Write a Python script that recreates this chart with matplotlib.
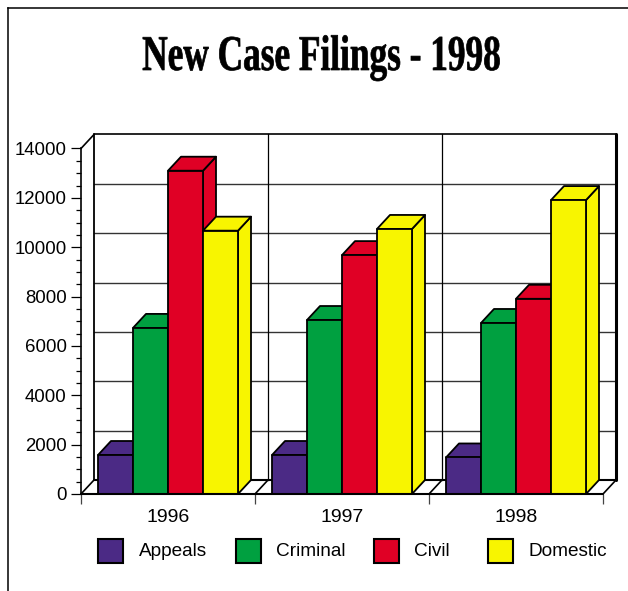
import matplotlib
matplotlib.use('Agg')
import matplotlib.pyplot as plt
from matplotlib.lines import Line2D
from matplotlib.patches import Rectangle
from matplotlib.patheffects import AbstractPathEffect
from matplotlib.transforms import Affine2D

# Data
years = ['1996', '1997', '1998']
appeals = [1580, 1580, 1480]
criminal = [6730, 7050, 6930]
civil = [13100, 9680, 7910]
domestic = [10670, 10740, 11910]
series_names = ['Appeals', 'Criminal', 'Civil', 'Domestic']
y_ticks = [0, 2000, 4000, 6000, 8000, 10000, 12000, 14000]

colors = ['#4B2A85', '#00A040', '#E00025', '#F8F500']

W, H = 628, 591
plt.rcParams['font.family'] = ['Liberation Sans', 'DejaVu Sans']


# the title in the original is a tall narrow serif, so stretch glyphs upward
class TallText(AbstractPathEffect):
    def __init__(self, k):
        super().__init__()
        self.k = k

    def draw_path(self, renderer, gc, tpath, affine, rgbFace=None):
        gc.set_linewidth(0.5)
        renderer.draw_path(gc, tpath, Affine2D().scale(1, self.k) + affine, rgbFace)


fig = plt.figure(figsize=(W / 100, H / 100), dpi=100)
ax = fig.add_axes([81 / W, (H - 494) / H, 522 / W, 345.5 / H])
ax.set_xlim(0, 3)
ax.set_ylim(0, 14000)

# depth of the 3d effect, in data units
dx = 13 / 174
dy = 14 * 14000 / 345.5
bar_w = 35 / 174
bar_start = 17 / 174

# back wall, floor and side wall
line_kw = dict(color='black', clip_on=False, solid_capstyle='round')
for v in y_ticks[1:-1]:
    ax.plot([dx, 3 + dx], [v + dy, v + dy], color='#333333', lw=1, clip_on=False, zorder=1)
for g in [1, 2]:
    ax.plot([g + dx, g + dx], [dy, 14000 + dy], color='black', lw=0.9, clip_on=False, zorder=1)
ax.plot([dx, 3 + dx], [14000 + dy, 14000 + dy], lw=1.2, zorder=2, **line_kw)
ax.plot([3 + dx, 3 + dx], [dy, 14000 + dy], lw=2.2, zorder=2, **line_kw)
ax.plot([dx, dx], [dy, 14000 + dy], lw=1.3, zorder=2, **line_kw)
ax.plot([dx, 3 + dx], [dy, dy], lw=1.5, zorder=2, **line_kw)
ax.plot([0, dx], [14000, 14000 + dy], lw=1.2, zorder=2, **line_kw)
for g in [0, 1, 2, 3]:
    ax.plot([g, g + dx], [0, dy], lw=1.2, zorder=2, **line_kw)

# bars, left to right so each one covers the side of the previous one
z = 3
for g in range(len(years)):
    for i, values in enumerate([appeals, criminal, civil, domestic]):
        v = values[g]
        x0 = g + bar_start + i * bar_w
        x1 = x0 + bar_w
        ax.fill([x1, x1 + dx, x1 + dx, x1], [0, dy, v + dy, v], facecolor=colors[i],
                edgecolor='black', lw=1.3, clip_on=False, zorder=z, joinstyle='round')
        ax.fill([x0, x0 + dx, x1 + dx, x1], [v, v + dy, v + dy, v], facecolor=colors[i],
                edgecolor='black', lw=1.3, clip_on=False, zorder=z, joinstyle='round')
        ax.fill([x0, x1, x1, x0], [0, 0, v, v], facecolor=colors[i],
                edgecolor='black', lw=1.3, clip_on=False, zorder=z, joinstyle='round')
        z += 1

ax.plot([0, 3], [0, 0], lw=1.5, zorder=z, **line_kw)

# axes
ax.patch.set_visible(False)
for side in ['top', 'right', 'bottom']:
    ax.spines[side].set_visible(False)
ax.spines['left'].set_linewidth(1.2)
ax.spines['left'].set_zorder(2)
ax.set_yticks(y_ticks)
ax.set_yticks([v for v in range(0, 14001, 500) if v % 2000], minor=True)
ax.tick_params(axis='y', which='major', length=7.2, width=0.9, pad=3, labelsize=13.4)
ax.tick_params(axis='y', which='minor', length=3.6, width=0.9)
ax.set_xticks([0, 1, 2, 3], labels=[])
ax.set_xticks([0.5, 1.5, 2.5], labels=years, minor=True)
ax.tick_params(axis='x', which='major', length=7.2, width=0.9, color='#444444')
ax.tick_params(axis='x', which='minor', length=0, pad=10.5, labelsize=14)

# title
title = fig.text(321.5 / W, 1 - 70 / H, 'New Case Filings - 1998', ha='center', va='baseline',
                 family=['Liberation Serif', 'DejaVu Serif'], weight='bold', fontsize=25.4)
title.set_path_effects([TallText(1.42)])

# legend, placed by hand because the gaps in the original are uneven
swatch_x = [98, 236, 374, 488]
label_x = [139, 276, 414, 529]
for name, color, sx, lx in zip(series_names, colors, swatch_x, label_x):
    fig.add_artist(Rectangle((sx / W, 1 - 563 / H), 25 / W, 24 / H, transform=fig.transFigure,
                             facecolor=color, edgecolor='black', lw=1.5))
    fig.text(lx / W, 1 - 551 / H, name, ha='left', va='center', fontsize=13.7)

# page border
fig.add_artist(Line2D([8 / W, 8 / W], [0, 1 - 8 / H], color='black', lw=1.1))
fig.add_artist(Line2D([8 / W, 1], [1 - 8 / H, 1 - 8 / H], color='black', lw=1.1))

fig.savefig('out.png', dpi=100)
